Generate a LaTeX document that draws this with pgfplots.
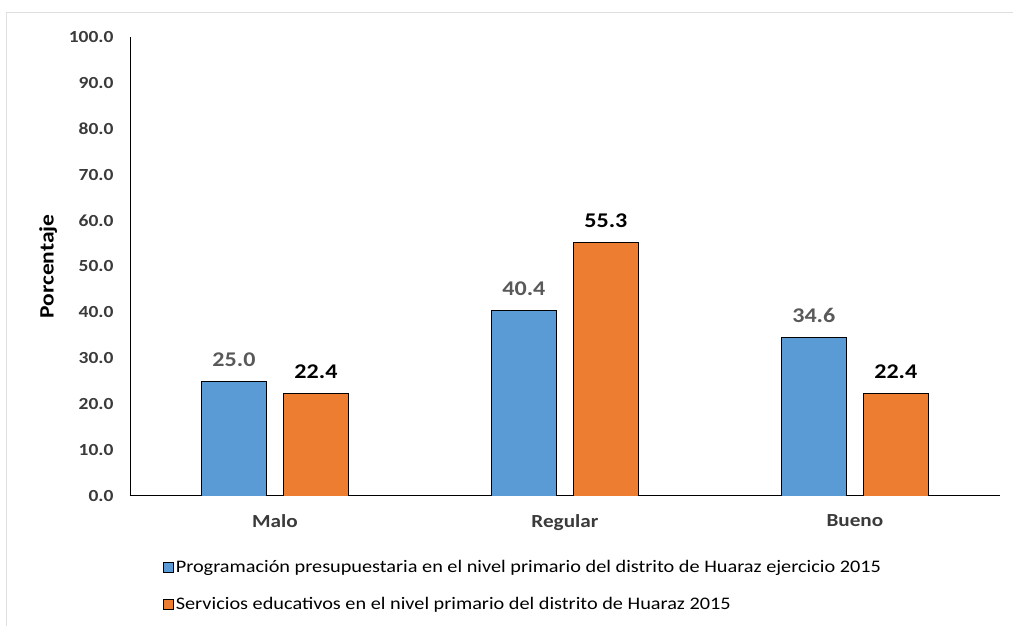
\documentclass[border=0pt]{standalone}
\usepackage{pgfplots}
\pgfplotsset{compat=1.18}
\usepackage{fontspec}
\setmainfont{Carlito}[FakeStretch=1.15]
\definecolor{cblue}{HTML}{5B9BD5}
\definecolor{corange}{HTML}{ED7D31}
\definecolor{lgray}{HTML}{595959}
\definecolor{tgray}{HTML}{3A3A3A}
\begin{document}
\begin{tikzpicture}[x=1bp,y=1bp]
\path (0,0) rectangle (1013,-626);
\draw[gray!25] (6,-626) -- (6,-12) -- (1013,-12);
\begin{axis}[
  at={(130bp,-496bp)}, anchor=south west,
  scale only axis, width=870bp, height=459bp,
  xmin=-0.5, xmax=2.5, ymin=0, ymax=100,
  axis x line*=bottom, axis y line*=left,
  axis line style={black, line width=0.9pt},
  major tick length=0pt,
  xtick={0,1,2}, xticklabels={Malo,Regular,Bueno},
  ytick={0,10,...,100},
  /pgf/number format/.cd, fixed, fixed zerofill, precision=1, assume math mode=true, /pgfplots/.cd,
  x tick label style={font=\bfseries\fontsize{18.5}{22}\selectfont, text=tgray, yshift=-15bp},
  y tick label style={font=\bfseries\fontsize{17}{20}\selectfont, text=tgray, xshift=-13bp},
  ylabel={Porcentaje},
  ylabel style={at={(axis description cs:-0.094,0.5)}, anchor=center, font=\bfseries\fontsize{20.5}{24}\selectfont, text=black},
  ybar=17bp, bar width=65bp,
  nodes near coords,
  every node near coord/.append style={font=\bfseries\fontsize{21}{25}\selectfont, yshift=11bp},
  legend style={at={(0.038,-0.136)}, anchor=north west, draw=none, inner sep=0pt,
    font=\fontsize{17.7}{21}\selectfont, row sep=19bp, cells={anchor=west}},
  legend cell align=left,
  legend image code/.code={\draw[#1, line width=0.6pt] (0bp,-5bp) rectangle (10bp,5bp);},
]
\addplot[fill=cblue, draw=black, line width=0.6pt, every node near coord/.append style={text=lgray}] coordinates {(0,25.0) (1,40.4) (2,34.6)};
\addplot[fill=corange, draw=black, line width=0.6pt, every node near coord/.append style={text=black}] coordinates {(0,22.4) (1,55.3) (2,22.4)};
\legend{Programación presupuestaria en el nivel primario del distrito de Huaraz ejercicio 2015, Servicios educativos en el nivel primario del distrito de Huaraz 2015}
\end{axis}
\end{tikzpicture}
\end{document}
